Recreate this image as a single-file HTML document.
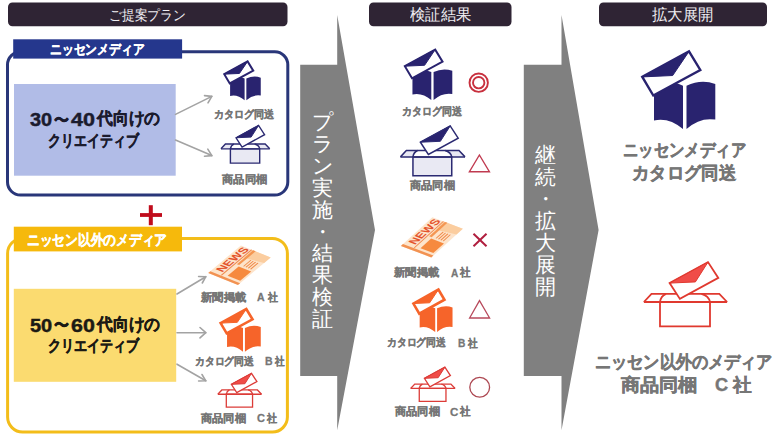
<!DOCTYPE html>
<html><head><meta charset="utf-8">
<style>
html,body{margin:0;padding:0;background:#fff;}
body{width:780px;height:436px;position:relative;overflow:hidden;font-family:"Liberation Sans",sans-serif;}
svg{position:absolute;left:0;top:0;}
.t{position:absolute;white-space:nowrap;line-height:1;transform-origin:0 0;}
.b{font-weight:bold;}
.vc{color:#fff;font-size:21px;width:22px;text-align:center;line-height:21.7px;}
</style></head><body>
<svg width="780" height="436" viewBox="0 0 780 436">
<defs>
<g id="cat">
  <path d="M13,33.9 Q28,29 42,35.7 L42,79 Q28,67 13,70.4 Z" fill="currentColor"/>
  <path d="M45.5,35.7 Q60,29 74.3,33.9 L74.3,69.6 Q59,67 45.5,79 Z" fill="currentColor"/>
  <polygon points="1.3,26.9 48,1.4 59.3,20 12.3,45.5" fill="#fff" stroke="currentColor" style="stroke-width:var(--cw)" vector-effect="non-scaling-stroke"/>
  <polygon points="1.3,26.9 48,1.4 31.7,25.5" fill="currentColor" stroke="currentColor" stroke-width="1" stroke-linejoin="round" vector-effect="non-scaling-stroke"/>
</g>
<g id="box">
  <polygon points="2,40.7 9.6,32.5 24.1,32.5 18.1,40.7" fill="var(--bf)" stroke="none"/>
  <polygon points="68.1,40.7 59.5,32.5 77.4,32.5 85.2,40.7" fill="var(--bf)" stroke="none"/>
  <g fill="none" stroke="currentColor" style="stroke-width:var(--sw)">
  <path d="M2,40.7 L9.6,32.5 L77.4,32.5 L85.2,40.7" vector-effect="non-scaling-stroke"/>
  <path d="M24.1,32.5 Q19,34.5 18.1,40.7 M59.5,32.5 Q67,34.5 68.1,40.7" vector-effect="non-scaling-stroke"/>
  </g>
  <polygon points="27.7,21.8 66.1,0.8 76.4,16.6 38,37.6" fill="#fff" stroke="currentColor" style="stroke-width:var(--sw)" vector-effect="non-scaling-stroke"/>
  <polygon points="27.7,21.8 66.1,0.8 53.5,20.6" fill="var(--ef)" stroke="currentColor" stroke-width="1" stroke-linejoin="round" vector-effect="non-scaling-stroke"/>
  <rect x="18.1" y="40.7" width="50" height="24.3" fill="var(--bf)" stroke="currentColor" style="stroke-width:var(--sw)" vector-effect="non-scaling-stroke"/>
  <line x1="2" y1="40.7" x2="85.2" y2="40.7" stroke="currentColor" style="stroke-width:var(--sw)" vector-effect="non-scaling-stroke"/>
</g>
<g id="news">
  <polygon points="0,0 40,0 40,32 0,32" fill="#fde4cb"/>
  <polygon points="29,13 40,12 40,32 32,32" fill="#fbcd9f"/>
  <rect x="0" y="0" width="2.6" height="32" fill="#f29252"/>
  <text x="6" y="9.8" font-size="11" font-weight="bold" fill="#e4532b" font-family="Liberation Sans" letter-spacing="0.2">NEWS</text>
  <rect x="3" y="11" width="37" height="1.1" fill="#f0884a"/>
  <rect x="20" y="13.2" width="20" height="2.6" fill="#f49652"/>
  <rect x="5" y="16.5" width="13.5" height="13.5" fill="#f68a3e"/>
  <rect x="20.5" y="19.5" width="9" height="1.1" fill="#f08a48"/>
  <rect x="20.5" y="22" width="9" height="1.1" fill="#f08a48"/>
  <rect x="20.5" y="24.5" width="9" height="1.1" fill="#f08a48"/>
  <rect x="20.5" y="27" width="9" height="1.1" fill="#f08a48"/>
</g>
</defs>

<!-- header bars -->
<rect x="8" y="2.5" width="279.5" height="23.8" rx="4.5" fill="#2f2434"/>
<rect x="369" y="2.5" width="142.5" height="23.8" rx="4.5" fill="#2f2434"/>
<rect x="599" y="2.5" width="168" height="23.8" rx="4.5" fill="#2f2434"/>

<!-- gray big arrows -->
<polygon points="300.2,64.7 337.2,64.7 337.2,15 375,230 337.2,430.2 337.2,376 300.2,376" fill="#808080"/>
<polygon points="523.8,64.7 561.5,64.7 561.5,15 598.6,230 561.5,430.2 561.5,376 523.8,376" fill="#808080"/>

<!-- blue box -->
<rect x="7.5" y="51.8" width="280.3" height="143.2" rx="13" fill="none" stroke="#293679" stroke-width="3"/>
<rect x="13.2" y="39.3" width="168.9" height="19.3" fill="#25378d"/>
<rect x="14" y="84" width="161.7" height="91.7" fill="#b1bce7"/>

<!-- yellow box -->
<rect x="7.6" y="238.4" width="279.8" height="193.6" rx="15" fill="none" stroke="#f3bd1a" stroke-width="3"/>
<rect x="13.8" y="226.7" width="168.2" height="24.7" fill="#f6b90c"/>
<rect x="13.8" y="288.8" width="162.4" height="93" fill="#fbdb70"/>

<!-- plus -->
<rect x="148.8" y="205.2" width="4" height="20" fill="#c00c1c"/>
<rect x="140" y="213.1" width="22" height="3.8" fill="#c00c1c"/>

<!-- small gray arrows -->
<g stroke="#a3a3a3" stroke-width="1.6" fill="none" stroke-linecap="round" stroke-linejoin="round">
  <line x1="175.5" y1="114.4" x2="211.8" y2="96.4"/>
  <polyline points="204.5,95.6 211.8,96.4 208,102.8"/>
  <line x1="175.5" y1="140" x2="211.8" y2="155.6"/>
  <polyline points="207.8,149.2 211.8,155.6 204.5,156.2"/>
  <line x1="177" y1="294" x2="205.8" y2="276.7"/>
  <polyline points="198.6,276.5 205.8,276.7 202.3,283"/>
  <line x1="177" y1="332.7" x2="205.8" y2="332.7"/>
  <polyline points="200,327.5 205.8,332.7 200,337.9"/>
  <line x1="177" y1="364.2" x2="205.8" y2="380.8"/>
  <polyline points="202,374.5 205.8,380.8 198.6,381"/>
</g>

<!-- icons: catalog navy -->
<use href="#cat" transform="translate(223.6,60.7) scale(0.5)" style="color:#29236f;--cw:2px"/>
<use href="#cat" transform="translate(404,48.7) scale(0.65)" style="color:#29236f;--cw:2px"/>
<use href="#cat" transform="translate(641,50) scale(1)" style="color:#29236f;--cw:2.4px"/>
<!-- catalog orange -->
<use href="#cat" transform="translate(219.9,308.3) scale(0.55)" style="color:#f6642a;--cw:2.6px"/>
<use href="#cat" transform="translate(412.7,288.8) scale(0.536,0.548)" style="color:#f6642a;--cw:2.6px"/>

<!-- box navy -->
<use href="#box" transform="translate(219.8,125) scale(0.586)" style="color:#2b2a72;--sw:1.4px;--bf:#e9e9f3;--ef:#29236f"/>
<use href="#box" transform="translate(398.9,125.3) scale(0.776)" style="color:#2b2a72;--sw:1.5px;--bf:#e9e9f3;--ef:#29236f"/>
<!-- box red -->
<use href="#box" transform="translate(216.8,372.9) scale(0.525)" style="color:#dc3c38;--sw:1.3px;--bf:#fff;--ef:#f04c48"/>
<use href="#box" transform="translate(409.6,366.7) scale(0.534)" style="color:#dc3c38;--sw:1.3px;--bf:#fff;--ef:#f04c48"/>
<use href="#box" transform="translate(641.9,261.3) scale(1)" style="color:#e0392f;--sw:1.8px;--bf:#fff;--ef:#f04c48"/>

<!-- newspapers -->
<use href="#news" transform="matrix(0.8175,-0.69,0.93,0.375,208.2,273)"/>
<use href="#news" transform="matrix(0.7875,-0.7175,0.95,0.359,400.9,245.9)"/>

<!-- result symbols -->
<circle cx="478.7" cy="82.7" r="9.2" fill="none" stroke="#c8303e" stroke-width="1.9"/>
<circle cx="478.7" cy="82.7" r="5.7" fill="none" stroke="#c8303e" stroke-width="1.9"/>
<polygon points="479.4,155 489.4,171.7 469.4,171.7" fill="none" stroke="#c03a50" stroke-width="1.4"/>
<g stroke="#b01e3e" stroke-width="2"><line x1="473.5" y1="233.8" x2="486.5" y2="246.2"/><line x1="486.5" y1="233.8" x2="473.5" y2="246.2"/></g>
<polygon points="479.5,300.6 489.6,318 469.6,318" fill="none" stroke="#b84a5c" stroke-width="1.3"/>
<circle cx="479.7" cy="387.2" r="9.9" fill="none" stroke="#ad4852" stroke-width="1.3"/>
</svg>
<!--TEXT-->
<div class="t" style="left:109.3px;top:9.4px;font-size:13.5px;transform:scaleX(0.9137);color:#f0eef2;">ご提案プラン</div>
<div class="t" style="left:409.8px;top:7.3px;font-size:16px;transform:scaleX(0.9578);color:#f0eef2;">検証結果</div>
<div class="t" style="left:652.0px;top:7.3px;font-size:16px;transform:scaleX(0.9604);color:#f0eef2;">拡大展開</div>
<div class="t b" style="left:49.9px;top:43.1px;font-size:13.5px;transform:scaleX(0.8429);color:#ffffff;-webkit-text-stroke:0.32px currentColor;">ニッセンメディア</div>
<div class="t b" style="left:27.0px;top:233.3px;font-size:14.5px;transform:scaleX(0.8494);color:#ffffff;-webkit-text-stroke:0.35px currentColor;">ニッセン以外のメディア</div>
<div class="t b" style="left:48.0px;top:132.8px;font-size:16px;transform:scaleX(0.8099);color:#1b1b2e;-webkit-text-stroke:0.38px currentColor;">クリエイティブ</div>
<div class="t b" style="left:47.7px;top:338.2px;font-size:16px;transform:scaleX(0.817);color:#1c1a14;-webkit-text-stroke:0.38px currentColor;">クリエイティブ</div>
<div class="t b" style="left:214.2px;top:109.2px;font-size:11px;transform:scaleX(0.9136);color:#767676;-webkit-text-stroke:0.26px currentColor;">カタログ同送</div>
<div class="t b" style="left:221.7px;top:173.9px;font-size:11px;transform:scaleX(1.0256);color:#767676;-webkit-text-stroke:0.26px currentColor;">商品同梱</div>
<div class="t b" style="left:200.8px;top:292.2px;font-size:11px;transform:scaleX(1.0232);color:#767676;-webkit-text-stroke:0.26px currentColor;">新聞掲載</div>
<div class="t b" style="left:257.2px;top:292.3px;font-size:11px;transform:scaleX(0.9579);color:#767676;-webkit-text-stroke:0.26px currentColor;">A</div>
<div class="t b" style="left:267.8px;top:292.2px;font-size:11px;transform:scaleX(0.9066);color:#767676;-webkit-text-stroke:0.26px currentColor;">社</div>
<div class="t b" style="left:194.5px;top:355.8px;font-size:11px;transform:scaleX(0.8939);color:#767676;-webkit-text-stroke:0.26px currentColor;">カタログ同送</div>
<div class="t b" style="left:264.8px;top:356.4px;font-size:11px;transform:scaleX(0.9587);color:#767676;-webkit-text-stroke:0.26px currentColor;">B</div>
<div class="t b" style="left:274.8px;top:356.3px;font-size:11px;transform:scaleX(0.8734);color:#767676;-webkit-text-stroke:0.26px currentColor;">社</div>
<div class="t b" style="left:201.3px;top:412.7px;font-size:11px;transform:scaleX(1.0227);color:#767676;-webkit-text-stroke:0.26px currentColor;">商品同梱</div>
<div class="t b" style="left:257.1px;top:412.8px;font-size:11px;transform:scaleX(1.0028);color:#767676;-webkit-text-stroke:0.26px currentColor;">C</div>
<div class="t b" style="left:266.8px;top:412.7px;font-size:11px;transform:scaleX(0.9135);color:#767676;-webkit-text-stroke:0.26px currentColor;">社</div>
<div class="t b" style="left:402.1px;top:106.2px;font-size:11px;transform:scaleX(0.9077);color:#767676;-webkit-text-stroke:0.26px currentColor;">カタログ同送</div>
<div class="t b" style="left:409.6px;top:179.8px;font-size:11px;transform:scaleX(1.0183);color:#767676;-webkit-text-stroke:0.26px currentColor;">商品同梱</div>
<div class="t b" style="left:393.8px;top:267.4px;font-size:11px;transform:scaleX(1.0232);color:#767676;-webkit-text-stroke:0.26px currentColor;">新聞掲載</div>
<div class="t b" style="left:450.7px;top:267.5px;font-size:11px;transform:scaleX(0.9171);color:#767676;-webkit-text-stroke:0.26px currentColor;">A</div>
<div class="t b" style="left:460.1px;top:267.4px;font-size:11px;transform:scaleX(0.9548);color:#767676;-webkit-text-stroke:0.26px currentColor;">社</div>
<div class="t b" style="left:387.1px;top:337.3px;font-size:11px;transform:scaleX(0.8939);color:#767676;-webkit-text-stroke:0.26px currentColor;">カタログ同送</div>
<div class="t b" style="left:458.0px;top:337.9px;font-size:11px;transform:scaleX(0.9306);color:#767676;-webkit-text-stroke:0.26px currentColor;">B</div>
<div class="t b" style="left:467.9px;top:337.8px;font-size:11px;transform:scaleX(0.8807);color:#767676;-webkit-text-stroke:0.26px currentColor;">社</div>
<div class="t b" style="left:394.5px;top:406.4px;font-size:11px;transform:scaleX(1.0183);color:#767676;-webkit-text-stroke:0.26px currentColor;">商品同梱</div>
<div class="t b" style="left:450.2px;top:406.5px;font-size:11px;transform:scaleX(1.0481);color:#767676;-webkit-text-stroke:0.26px currentColor;">C</div>
<div class="t b" style="left:460.1px;top:406.4px;font-size:11px;transform:scaleX(0.9548);color:#767676;-webkit-text-stroke:0.26px currentColor;">社</div>
<div class="t b" style="left:622.7px;top:140.5px;font-size:18px;transform:scaleX(0.8535);color:#767676;-webkit-text-stroke:0.43px currentColor;">ニッセンメディア</div>
<div class="t b" style="left:632.2px;top:163.6px;font-size:18px;transform:scaleX(0.963);color:#767676;-webkit-text-stroke:0.43px currentColor;">カタログ同送</div>
<div class="t b" style="left:594.6px;top:353.4px;font-size:18px;transform:scaleX(0.897);color:#767676;-webkit-text-stroke:0.43px currentColor;">ニッセン以外のメディア</div>
<div class="t b" style="left:620.5px;top:376.2px;font-size:18px;transform:scaleX(1.0645);color:#767676;-webkit-text-stroke:0.43px currentColor;">商品同梱</div>
<div class="t b" style="left:714.8px;top:376.3px;font-size:18px;transform:scaleX(1.0066);color:#767676;-webkit-text-stroke:0.43px currentColor;">C</div>
<div class="t b" style="left:732.5px;top:376.2px;font-size:18px;transform:scaleX(1.0337);color:#767676;-webkit-text-stroke:0.43px currentColor;">社</div>
<div class="t b" style="left:30.1px;top:111.7px;font-size:17.5px;transform:scaleX(1.138);color:#1b1b2e;-webkit-text-stroke:0.42px currentColor;">30</div>
<div class="t b" style="left:54.1px;top:111.5px;font-size:16.5px;transform:scaleX(0.8778);color:#1b1b2e;-webkit-text-stroke:0.4px currentColor;">〜</div>
<div class="t b" style="left:71.0px;top:111.7px;font-size:17.5px;transform:scaleX(1.2318);color:#1b1b2e;-webkit-text-stroke:0.42px currentColor;">40</div>
<div class="t b" style="left:96.5px;top:110.0px;font-size:16.5px;transform:scaleX(0.929);color:#1b1b2e;-webkit-text-stroke:0.4px currentColor;">代向けの</div>
<div class="t b" style="left:30.2px;top:317.5px;font-size:17.5px;transform:scaleX(1.1422);color:#1c1a14;-webkit-text-stroke:0.42px currentColor;">50</div>
<div class="t b" style="left:54.1px;top:317.3px;font-size:16.5px;transform:scaleX(0.8778);color:#1c1a14;-webkit-text-stroke:0.4px currentColor;">〜</div>
<div class="t b" style="left:71.2px;top:317.5px;font-size:17.5px;transform:scaleX(1.2217);color:#1c1a14;-webkit-text-stroke:0.42px currentColor;">60</div>
<div class="t b" style="left:96.5px;top:315.8px;font-size:16.5px;transform:scaleX(0.929);color:#1c1a14;-webkit-text-stroke:0.4px currentColor;">代向けの</div>
<!--/TEXT-->
<div class="t vc" style="left:311.5px;top:111.0px;">プ</div>
<div class="t vc" style="left:311.5px;top:132.9px;">ラ</div>
<div class="t vc" style="left:311.5px;top:154.8px;">ン</div>
<div class="t vc" style="left:311.5px;top:176.7px;">実</div>
<div class="t vc" style="left:311.5px;top:198.6px;">施</div>
<div class="t vc" style="left:311.5px;top:220.5px;">・</div>
<div class="t vc" style="left:311.5px;top:242.4px;">結</div>
<div class="t vc" style="left:311.5px;top:264.3px;">果</div>
<div class="t vc" style="left:311.5px;top:286.2px;">検</div>
<div class="t vc" style="left:311.5px;top:308.1px;">証</div>
<div class="t vc" style="left:534.5px;top:144.0px;">継</div>
<div class="t vc" style="left:534.5px;top:166.0px;">続</div>
<div class="t vc" style="left:534.5px;top:188.0px;">・</div>
<div class="t vc" style="left:534.5px;top:210.0px;">拡</div>
<div class="t vc" style="left:534.5px;top:232.0px;">大</div>
<div class="t vc" style="left:534.5px;top:254.0px;">展</div>
<div class="t vc" style="left:534.5px;top:276.0px;">開</div>
</body></html>
